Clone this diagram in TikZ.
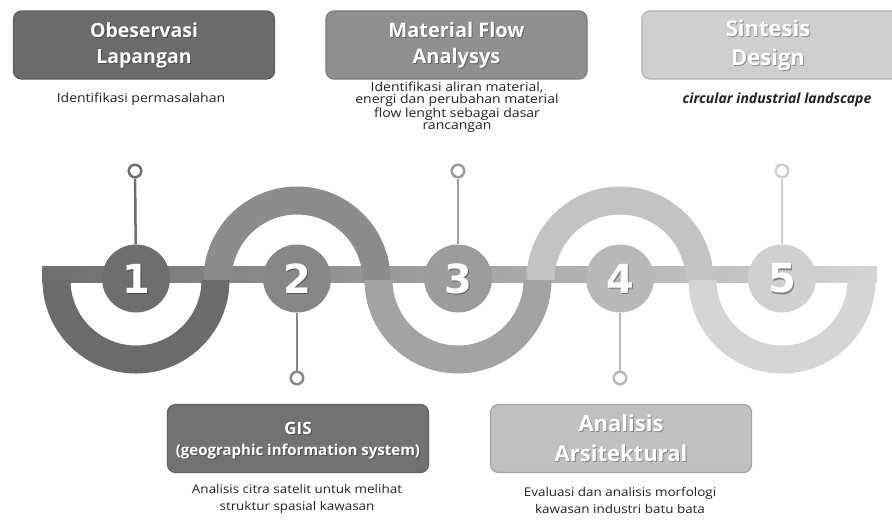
\documentclass[tikz,border=0pt]{standalone}
\usepackage{fontspec}
\setmainfont{Open Sans}
\newfontfamily\numfont{DejaVu Sans}
\newfontfamily\descfont{Open Sans}[FakeStretch=1.12]
\definecolor{g1}{HTML}{6E6E6E}\definecolor{a1}{HTML}{6B6B6B}
\definecolor{g2}{HTML}{878787}\definecolor{a2}{HTML}{8C8C8C}
\definecolor{g3}{HTML}{9C9C9C}\definecolor{a3}{HTML}{A3A3A3}
\definecolor{g4}{HTML}{B8B8B8}\definecolor{a4}{HTML}{C3C3C3}
\definecolor{g5}{HTML}{D0D0D0}\definecolor{a5}{HTML}{D5D5D5}
\definecolor{b1}{HTML}{6B6B6B}\definecolor{b2}{HTML}{909090}
\definecolor{b3}{HTML}{CFCFCF}\definecolor{bG}{HTML}{727272}
\definecolor{b4}{HTML}{C0C0C0}\definecolor{txt}{HTML}{222222}
\newcommand\lowerhalf[2]{\fill[#2] (#1-93.5,-280) arc[start angle=180,end angle=360,radius=93.5] -- (#1+65.5,-280) arc[start angle=0,end angle=-180,radius=65.5] -- cycle;}
\newcommand\upperhalf[2]{\fill[#2] (#1-93.5,-280) arc[start angle=180,end angle=0,radius=93.5] -- (#1+65.5,-280) arc[start angle=0,end angle=180,radius=65.5] -- cycle;}
\tikzset{
  box/.style={rounded corners=8pt, minimum width=261pt, minimum height=68pt, line width=1.2pt, inner sep=0pt},
  ttl/.style={text=white, align=center, inner sep=0pt},
  ttlshadow/.style={text=black, opacity=0.3, align=center, inner sep=0pt},
  numc/.style={circle, minimum size=68pt, inner sep=0pt},
  ring/.style={circle, draw, fill=white, line width=2.5pt, minimum size=12.5pt, inner sep=0pt},
  pinline/.style={line width=2.5pt},
  digit/.style={text=white, font=\numfont\bfseries\fontsize{40}{40}\selectfont, inner sep=0pt},
  digitshadow/.style={text=black, opacity=0.35, font=\numfont\bfseries\fontsize{40}{40}\selectfont, inner sep=0pt},
  desc/.style={text=txt, align=center, inner sep=0pt, font=\descfont\fontsize{12.5}{12.5}\selectfont},
}
\begin{document}
\begin{tikzpicture}[x=1pt,y=1pt]
\path[use as bounding box] (0,0) rectangle (892,-520);
\clip (0,0) rectangle (892,-520);
\fill[white] (0,0) rectangle (892,-520);
% band
\shade[left color=g1, right color=a5] (42,-266) rectangle (877,-282);
% arcs
\lowerhalf{136}{a1}
\lowerhalf{458}{a3}
\lowerhalf{782}{a5}
\upperhalf{297}{a2}
\upperhalf{620}{a4}
% pins
\node[ring, draw=g1] (p1) at (135,-171) {};
\node[ring, draw=g2] (p2) at (297,-378) {};
\node[ring, draw=g3] (p3) at (458,-171) {};
\node[ring, draw=g4] (p4) at (620,-378) {};
\node[ring, draw=g5] (p5) at (782,-171) {};
% number circles
\node[numc, fill=g1] (n1) at (136,-278.5) {};
\node[numc, fill=g2] (n2) at (297,-278.5) {};
\node[numc, fill=g3] (n3) at (458,-278.5) {};
\node[numc, fill=g4] (n4) at (620,-278.5) {};
\node[numc, fill=g5] (n5) at (782,-278.5) {};
\draw[pinline, g1] (n1) -- (p1);
\draw[pinline, g2] (n2) -- (p2);
\draw[pinline, g3] (n3) -- (p3);
\draw[pinline, g4] (n4) -- (p4);
\draw[pinline, g5] (n5) -- (p5);
% digits
\node[digitshadow] (s1) at (137.2,-279.8) {1};
\node[digit] (d1) at (n1) {1};
\node[digitshadow] (s2) at (298.2,-279.8) {2};
\node[digit] (d2) at (n2) {2};
\node[digitshadow] (s3) at (459.2,-279.8) {3};
\node[digit] (d3) at (n3) {3};
\node[digitshadow] (s4) at (621.2,-279.8) {4};
\node[digit] (d4) at (n4) {4};
\node[digitshadow] (s5) at (783.2,-279.8) {5};
\node[digit] (d5) at (n5) {5};
% top boxes
\node[box, fill=b1, draw=b1!85!black] (B1) at (144,-45) {};
\node[ttlshadow, font=\bfseries\fontsize{19.5}{26}\selectfont] (T1s) at (145,-46) {Obeservasi\\Lapangan};
\node[ttl, font=\bfseries\fontsize{19.5}{26}\selectfont] (T1) at (B1) {Obeservasi\\Lapangan};
\node[box, fill=b2, draw=b2!85!black] (B2) at (456.5,-45) {};
\node[ttlshadow, font=\bfseries\fontsize{20}{26}\selectfont] (T2s) at (457.5,-46) {Material Flow\\Analysys};
\node[ttl, font=\bfseries\fontsize{20}{26}\selectfont] (T2) at (B2) {Material Flow\\Analysys};
\node[box, fill=b3, draw=b3!85!black] (B3) at (772.5,-45) {};
\node[ttlshadow, font=\bfseries\fontsize{22}{29}\selectfont] (T3s) at (769,-46) {Sintesis\\Design};
\node[ttl, font=\bfseries\fontsize{22}{29}\selectfont] (T3) at (768,-45) {Sintesis\\Design};
% bottom boxes
\node[box, fill=bG, draw=bG!85!black] (B4) at (298,-438.5) {};
\node[ttlshadow, font=\bfseries\fontsize{15}{21}\selectfont] (T4s) at (299,-441.5) {{\fontsize{17}{21}\selectfont GIS}\\(geographic information system)};
\node[ttl, font=\bfseries\fontsize{15}{21}\selectfont] (T4) at (298,-440.5) {{\fontsize{17}{21}\selectfont GIS}\\(geographic information system)};
\node[box, fill=b4, draw=b4!85!black] (B5) at (621,-438.5) {};
\node[ttlshadow, font=\bfseries\fontsize{22}{30}\selectfont] (T5s) at (622,-439.5) {Analisis\\Arsitektural};
\node[ttl, font=\bfseries\fontsize{22}{30}\selectfont] (T5) at (B5) {Analisis\\Arsitektural};
% descriptions
\node[desc] (D1) at (141,-99) {Identifikasi permasalahan};
\node[desc] (D2) at (457,-107) {Identifikasi aliran material,\\energi dan perubahan material\\flow lenght sebagai dasar\\rancangan};
\node[desc, font=\bfseries\itshape\fontsize{14}{14}\selectfont] (D3) at (777,-100) {circular industrial landscape};
\node[desc, font=\descfont\fontsize{12}{17}\selectfont] (D4) at (297,-498.5) {Analisis citra satelit untuk melihat\\struktur spasial kawasan};
\node[desc, font=\descfont\fontsize{12}{17}\selectfont] (D5) at (620,-500) {Evaluasi dan analisis morfologi\\kawasan industri batu bata};
\end{tikzpicture}
\end{document}
